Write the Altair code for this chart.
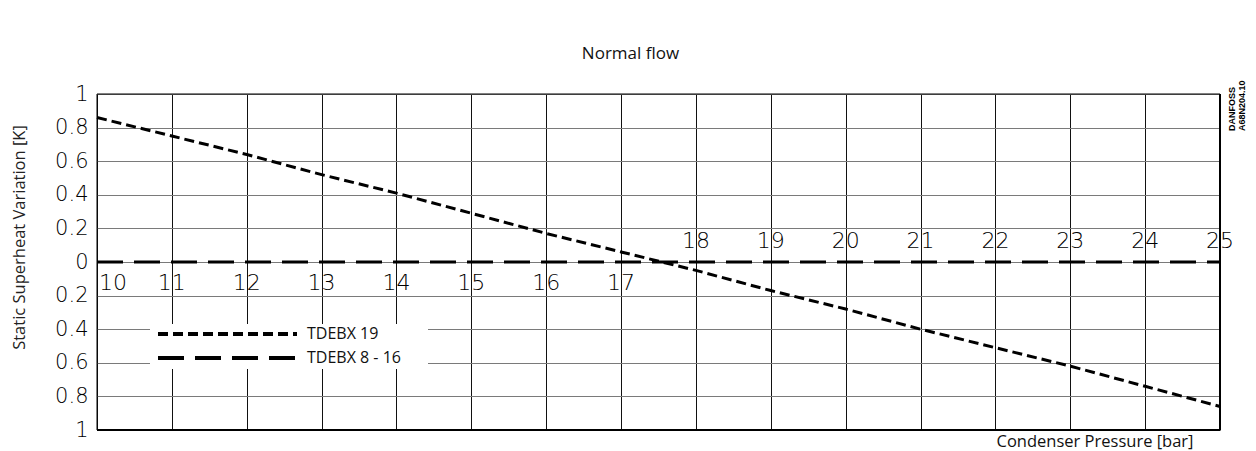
import altair as alt
import pandas as pd

# ---- data ----
pressure = [10, 11, 12, 13, 14, 15, 16, 17, 18, 19, 20, 21, 22, 23, 24, 25]
tdebx_19 = [0.86, 0.75, 0.64, 0.52, 0.41, 0.29, 0.17, 0.06,
            -0.05, -0.17, -0.28, -0.40, -0.51, -0.62, -0.74, -0.86]
tdebx_8_16 = [0.0] * 16
y_ticks = [-1.0, -0.8, -0.6, -0.4, -0.2, 0.0, 0.2, 0.4, 0.6, 0.8, 1.0]
series_names = ["TDEBX 19", "TDEBX 8 - 16"]
x_tick_labels = [str(p) for p in pressure]

W, H = 1123, 336

df = pd.DataFrame({
    "p": pressure * 2,
    "v": tdebx_19 + tdebx_8_16,
    "series": [series_names[0]] * len(pressure) + [series_names[1]] * len(pressure),
})
lab = pd.DataFrame({"p": pressure, "label": x_tick_labels, "v": [0.0] * len(pressure)})
frame = pd.DataFrame({"p": [pressure[0], pressure[-1]], "v": [y_ticks[0], y_ticks[-1]]})

xs = alt.Scale(domain=[pressure[0], pressure[-1]], nice=False, zero=False)
ys = alt.Scale(domain=[y_ticks[0], y_ticks[-1]], nice=False, zero=False)

X = alt.X("p:Q", scale=xs, title="Condenser Pressure [bar]",
          axis=alt.Axis(values=pressure))
Y = alt.Y("v:Q", scale=ys, title="Static Superheat Variation [K]",
          axis=alt.Axis(values=y_ticks,
                        labelExpr="datum.value == 0 ? '0' : format(abs(datum.value), '.1~f')"))

line19 = alt.Chart(df).transform_filter(
    alt.datum.series == series_names[0]
).mark_line(color="black", strokeWidth=3, strokeDash=[10, 5]).encode(x=X, y=Y)

line816 = alt.Chart(df).transform_filter(
    alt.datum.series == series_names[1]
).mark_line(color="black", strokeWidth=3, strokeDash=[26, 11]).encode(x=X, y=Y)

# plot frame
b_left = alt.Chart(frame).transform_filter(alt.datum.p == pressure[0]).mark_rule(
    color="black", strokeWidth=1).encode(x=X)
b_right = alt.Chart(frame).transform_filter(alt.datum.p == pressure[-1]).mark_rule(
    color="black", strokeWidth=2).encode(x=X)
b_top = alt.Chart(frame).transform_filter(alt.datum.v == y_ticks[-1]).mark_rule(
    color="black", strokeWidth=1).encode(y=Y)
b_bottom = alt.Chart(frame).transform_filter(alt.datum.v == y_ticks[0]).mark_rule(
    color="black", strokeWidth=2).encode(y=Y)

lab_font = dict(font="DejaVu Sans", fontSize=22, fontWeight=200, color="#000")
t_first = alt.Chart(lab).transform_filter(alt.datum.p == pressure[0]).mark_text(
    align="left", baseline="middle", dx=2, dy=21, **lab_font
).encode(x=X, y=Y, text="label:N")
t_below = alt.Chart(lab).transform_filter(
    (alt.datum.p > pressure[0]) & (alt.datum.p <= 17)
).mark_text(align="center", baseline="middle", dy=21, **lab_font).encode(
    x=X, y=Y, text="label:N")
t_above = alt.Chart(lab).transform_filter(alt.datum.p >= 18).mark_text(
    align="center", baseline="middle", dy=-21, **lab_font
).encode(x=X, y=Y, text="label:N")

# legend (manual, as in the reference)
leg_box = alt.Chart(lab).mark_rect(color="white").encode(
    x=alt.value(53), x2=alt.value(331), y=alt.value(230), y2=alt.value(275))
leg_l1 = alt.Chart(lab).mark_rule(color="black", strokeWidth=3, strokeDash=[10, 5]).encode(
    x=alt.value(61), x2=alt.value(200), y=alt.value(240))
leg_l2 = alt.Chart(lab).mark_rule(color="black", strokeWidth=3, strokeDash=[26, 11]).encode(
    x=alt.value(61), x2=alt.value(200), y=alt.value(264))
leg_font = dict(font="Open Sans", fontSize=16, color="#111", align="left", baseline="middle")
leg_t1 = alt.Chart(pd.DataFrame({"t": [series_names[0]]})).mark_text(**leg_font).encode(
    x=alt.value(210), y=alt.value(240), text="t:N")
leg_t2 = alt.Chart(pd.DataFrame({"t": [series_names[1]]})).mark_text(**leg_font).encode(
    x=alt.value(210), y=alt.value(264), text="t:N")

# drawing number
dn_font = dict(font="Liberation Sans", fontSize=9, fontWeight="bold", color="black",
               angle=270, align="left", baseline="alphabetic")
dn1 = alt.Chart(pd.DataFrame({"t": ["DANFOSS"]})).mark_text(**dn_font).encode(
    x=alt.value(1138), y=alt.value(37), text="t:N")
dn2 = alt.Chart(pd.DataFrame({"t": ["A68N204.10"]})).mark_text(**dn_font).encode(
    x=alt.value(1148), y=alt.value(37), text="t:N")

chart = alt.layer(
    line19, line816, leg_box, leg_l1, leg_l2, leg_t1, leg_t2,
    t_first, t_below, t_above, b_left, b_right, b_top, b_bottom, dn1, dn2
).properties(
    width=W, height=H,
    title=alt.TitleParams("Normal flow", font="Open Sans", fontSize=17,
                          fontWeight="normal", color="#111", anchor="middle",
                          dx=-28, offset=17),
    autosize=alt.AutoSizeParams(type="none"),
    padding={"left": 89, "top": 86, "right": 28, "bottom": 21},
).configure(
    background="white"
).configure_view(
    stroke=None
).configure_axisX(
    grid=True, gridColor="#111111", gridWidth=1, gridOpacity=1,
    labels=False, ticks=False, domain=False,
    titleFont="Open Sans", titleFontSize=16.5, titleFontWeight="normal",
    titleColor="#111", titleAnchor="end", titleAlign="right",
    titleBaseline="alphabetic", titleX=W - 27, titleY=16
).configure_axisY(
    grid=True, gridColor="#7a7a7a", gridWidth=1, gridOpacity=1,
    ticks=False, domain=False, labelPadding=9,
    labelFont="DejaVu Sans", labelFontSize=21, labelFontWeight=200,
    labelColor="#000", labelOverlap=False, labelFlush=False, labelBound=False,
    titleFont="Open Sans", titleFontSize=16.5, titleFontWeight="normal",
    titleColor="#222", titleAngle=-90, titleX=-78, titleY=143,
    titleAlign="center", titleBaseline="middle"
)

chart.save("out.html", embed_options={"renderer": "svg", "actions": False})
